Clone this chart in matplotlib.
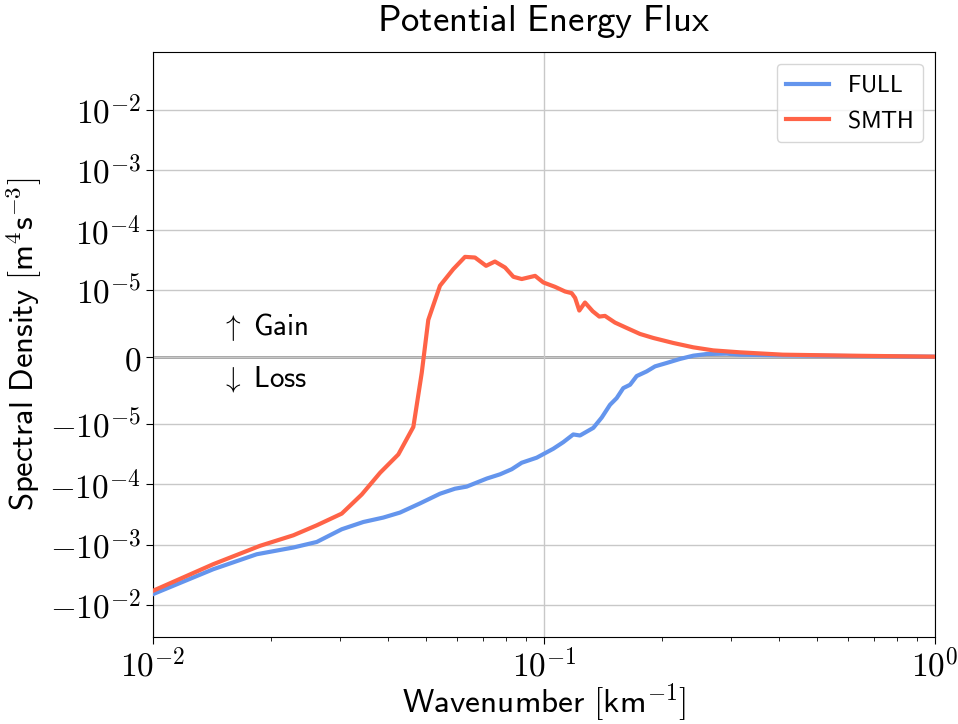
import numpy as np
import matplotlib
matplotlib.use("Agg")
import matplotlib.pyplot as plt
from matplotlib.ticker import NullLocator, FuncFormatter

plt.rcParams['mathtext.fontset'] = 'cm'

# wavenumber [1/km] and flux values
k_smth = [0.0100, 0.01426, 0.01878, 0.02285, 0.02623, 0.03039, 0.0342, 0.0381,
          0.04241, 0.04633, 0.04868, 0.05059, 0.0542, 0.0586, 0.0628, 0.0666,
          0.0711, 0.0749, 0.0795, 0.0835, 0.0877, 0.0949, 0.0996, 0.1067,
          0.1132, 0.1177, 0.1201, 0.1231, 0.1273, 0.1332, 0.1385, 0.1432,
          0.1519, 0.1627, 0.1760, 0.1903, 0.2141, 0.2409, 0.2710, 0.3171,
          0.408, 0.606, 1.0]
smth = [-5.87e-3, -2.12e-3, -1.05e-3, -7.02e-4, -4.79e-4, -3.06e-4, -1.47e-4,
        -6.4e-5, -3.18e-5, -1.11e-5, -2.3e-6, 5.6e-6, 1.2e-5, 2.26e-5, 3.62e-5,
        3.53e-5, 2.57e-5, 3.03e-5, 2.41e-5, 1.69e-5, 1.55e-5, 1.75e-5, 1.36e-5,
        1.15e-5, 9.85e-6, 9.6e-6, 8.9e-6, 7.0e-6, 8.2e-6, 6.9e-6, 6.1e-6,
        6.2e-6, 5.2e-6, 4.4e-6, 3.5e-6, 2.9e-6, 2.15e-6, 1.5e-6, 1.04e-6,
        7.5e-7, 4.0e-7, 2.5e-7, 1.0e-7]

k_full = [0.0100, 0.01426, 0.01842, 0.02285, 0.02623, 0.03039, 0.03451, 0.03882,
          0.04283, 0.04818, 0.0542, 0.0592, 0.0634, 0.0714, 0.0772, 0.0827,
          0.0877, 0.0958, 0.1056, 0.1120, 0.1188, 0.1236, 0.1337, 0.1405,
          0.1475, 0.1534, 0.1595, 0.1660, 0.1726, 0.1831, 0.1923, 0.2060,
          0.2227, 0.2409, 0.2607, 0.2933, 0.3171, 0.408, 0.606, 1.0]
full = [-6.67e-3, -2.57e-3, -1.45e-3, -1.12e-3, -9.06e-4, -5.57e-4, -4.22e-4,
        -3.56e-4, -2.94e-4, -2.07e-4, -1.43e-4, -1.18e-4, -1.09e-4, -8.0e-5,
        -6.8e-5, -5.6e-5, -4.37e-5, -3.6e-5, -2.56e-5, -1.99e-5, -1.48e-5,
        -1.54e-5, -1.15e-5, -9.0e-6, -7.1e-6, -6.1e-6, -4.6e-6, -4.1e-6,
        -2.8e-6, -2.1e-6, -1.35e-6, -8.4e-7, -2.4e-7, 2.5e-7, 5.0e-7, 5.5e-7,
        4.0e-7, 3.0e-7, 2.0e-7, 1.0e-7]


def pow_label(v, pos):
    # serif tick labels like 10^{-2}, -10^{-5}, 0
    if v == 0:
        return r'$0$'
    e = int(round(np.log10(abs(v))))
    sign = '-' if v < 0 else ''
    return r'$%s10^{%d}$' % (sign, e)


fig = plt.figure(figsize=(9.58, 7.24), dpi=100)
ax = fig.add_axes([153 / 958, 1 - 636.7 / 724, 782 / 958, 585 / 724])

ax.axhline(0, color='#999999', lw=2, zorder=1)
ax.plot(k_full, full, color='cornflowerblue', lw=3, label=r'$\mathsf{FULL}$', zorder=3)
ax.plot(k_smth, smth, color='tomato', lw=3, label=r'$\mathsf{SMTH}$', zorder=3)

ax.set_xscale('log')
ax.set_yscale('symlog', linthresh=1e-5, linscale=1)
ax.set_xlim(1e-2, 1)
ax.set_ylim(-0.034, 0.093)
ax.yaxis.set_minor_locator(NullLocator())
ax.xaxis.set_major_formatter(FuncFormatter(pow_label))
ax.yaxis.set_major_formatter(FuncFormatter(pow_label))

ax.grid(True, which='major', color='#c8c8c8', lw=1)
ax.tick_params(labelsize=24, length=5)
ax.tick_params(which='minor', length=3)

ax.text(0.0148, 4.6e-6, r'$\uparrow\ \mathsf{Gain}$', fontsize=21, va='center')
ax.text(0.0148, -3.3e-6, r'$\downarrow\ \mathsf{Loss}$', fontsize=21, va='center')

ax.set_title(r'$\mathsf{Potential\ Energy\ Flux}$', fontsize=26.5, pad=15)
ax.set_xlabel(r'$\mathsf{Wavenumber\ [km}^{-1}\mathsf{]}$', fontsize=24, labelpad=-2)
ax.set_ylabel(r'$\mathsf{Spectral\ Density\ [m}^{4}\mathsf{s}^{-3}\mathsf{]}$', fontsize=23.5)

ax.legend(loc='upper right', fontsize=17, handlelength=1.8)

plt.savefig('out.png', dpi=100)
